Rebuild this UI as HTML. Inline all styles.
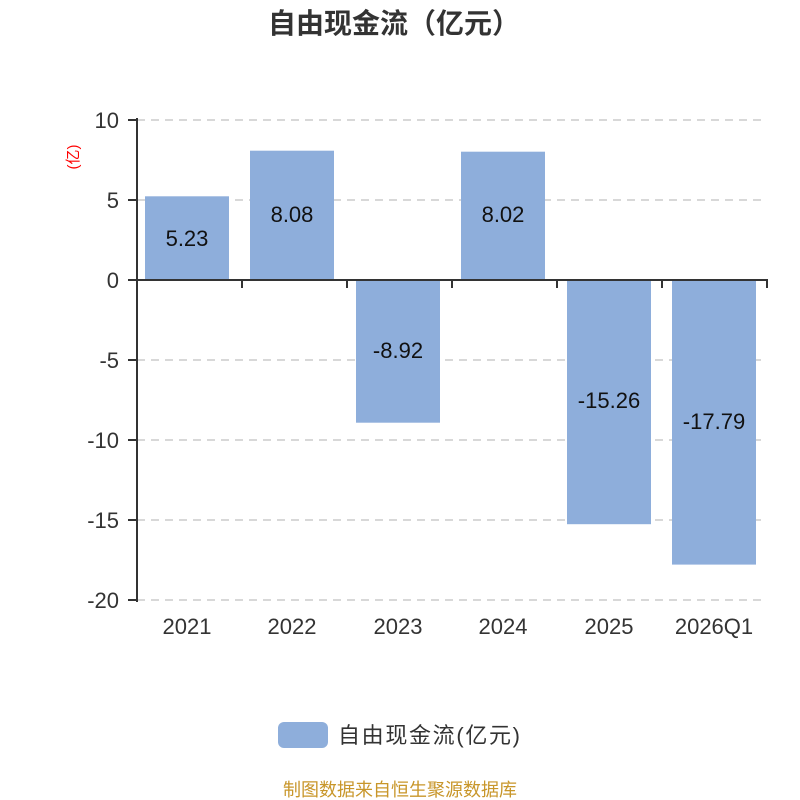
<!DOCTYPE html>
<html><head><meta charset="utf-8"><style>body{margin:0;background:#fff}svg{display:block}</style></head><body>
<svg width="800" height="800" xmlns="http://www.w3.org/2000/svg" font-family="'Liberation Sans','Noto Sans CJK SC',sans-serif">
<rect width="800" height="800" fill="#fff"/>
<text x="394" y="33" text-anchor="middle" font-size="28" font-weight="bold" fill="#333">自由现金流（亿元）</text>
<g stroke="#ccc" stroke-width="1.5" stroke-dasharray="8,6">
<line x1="137" y1="120" x2="767" y2="120"/><line x1="137" y1="200" x2="767" y2="200"/>
<line x1="137" y1="360" x2="767" y2="360"/><line x1="137" y1="440" x2="767" y2="440"/>
<line x1="137" y1="520" x2="767" y2="520"/><line x1="137" y1="600" x2="767" y2="600"/>
</g>
<g fill="#8eaedb">
<rect x="145" y="196.3" width="84" height="83.7"/>
<rect x="250" y="150.7" width="84" height="129.3"/>
<rect x="356" y="280" width="84" height="142.7"/>
<rect x="461" y="151.7" width="84" height="128.3"/>
<rect x="567" y="280" width="84" height="244.2"/>
<rect x="672" y="280" width="84" height="284.6"/>
</g>
<g stroke="#333" stroke-width="2">
<line x1="137" y1="118" x2="137" y2="602"/>
<line x1="136" y1="280" x2="768" y2="280"/>
<line x1="128" y1="120" x2="137" y2="120"/><line x1="128" y1="200" x2="137" y2="200"/>
<line x1="128" y1="280" x2="137" y2="280"/><line x1="128" y1="360" x2="137" y2="360"/>
<line x1="128" y1="440" x2="137" y2="440"/><line x1="128" y1="520" x2="137" y2="520"/>
<line x1="128" y1="600" x2="137" y2="600"/>
<line x1="242" y1="280" x2="242" y2="288"/><line x1="347" y1="280" x2="347" y2="288"/>
<line x1="452" y1="280" x2="452" y2="288"/><line x1="557" y1="280" x2="557" y2="288"/>
<line x1="662" y1="280" x2="662" y2="288"/><line x1="767" y1="280" x2="767" y2="288"/>
</g>
<g font-size="22" fill="#333" text-anchor="end">
<text x="119" y="128">10</text><text x="119" y="208">5</text><text x="119" y="288">0</text>
<text x="119" y="368">-5</text><text x="119" y="448">-10</text><text x="119" y="528">-15</text><text x="119" y="608">-20</text>
</g>
<text transform="translate(78,157) rotate(-90)" text-anchor="middle" font-size="15" fill="#f00">(亿)</text>
<g font-size="22" fill="#333" text-anchor="middle">
<text x="187" y="634">2021</text><text x="292" y="634">2022</text><text x="398" y="634">2023</text>
<text x="503" y="634">2024</text><text x="609" y="634">2025</text><text x="714" y="634">2026Q1</text>
</g>
<g font-size="22" fill="#111" text-anchor="middle">
<text x="187" y="246">5.23</text><text x="292" y="222">8.08</text><text x="398" y="358">-8.92</text>
<text x="503" y="222">8.02</text><text x="609" y="408">-15.26</text><text x="714" y="429">-17.79</text>
</g>
<rect x="278" y="722" width="50" height="26" rx="6" fill="#8eaedb"/>
<text x="338" y="743" font-size="22" fill="#333" textLength="182">自由现金流(亿元)</text>
<text x="400" y="796" text-anchor="middle" font-size="18" fill="#c8962a">制图数据来自恒生聚源数据库</text>
</svg>
</body></html>
